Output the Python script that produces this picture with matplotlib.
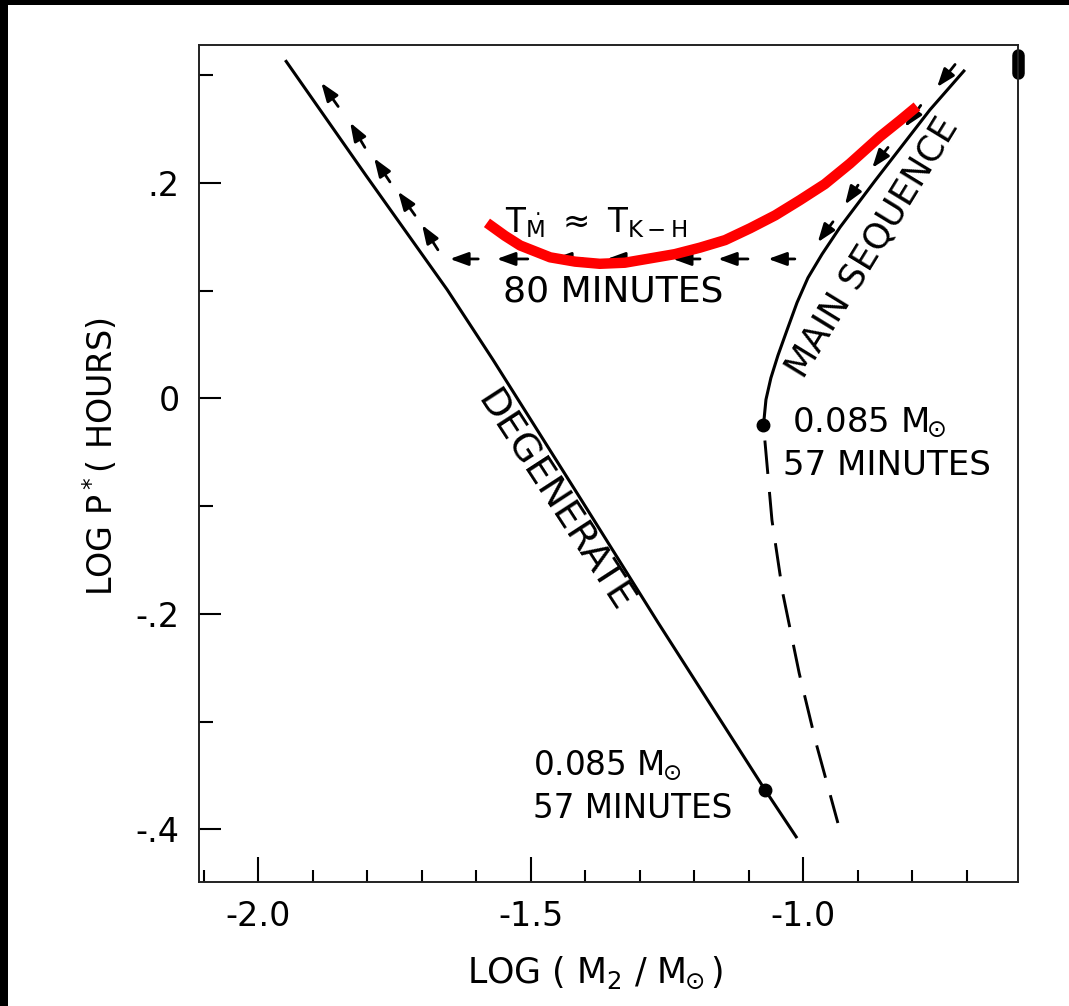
import numpy as np
import matplotlib
matplotlib.use('Agg')
import matplotlib.pyplot as plt
from matplotlib.patches import Rectangle

plt.rcParams['font.family'] = ['DejaVu Sans']
plt.rcParams['mathtext.fontset'] = 'dejavusans'

# degenerate secondary track (log M2, log P)
deg_x = [-1.950, -1.802, -1.653, -1.569, -1.407, -1.266, -1.070, -1.011]
deg_y = [0.314, 0.207, 0.101, 0.036, -0.094, -0.208, -0.363, -0.408]

# main sequence track, solid part and dashed continuation
ms_x = [-0.703, -0.767, -0.868, -0.932, -0.965, -0.991, -1.011, -1.029,
        -1.046, -1.059, -1.068, -1.073]
ms_y = [0.305, 0.268, 0.202, 0.159, 0.134, 0.112, 0.089, 0.064,
        0.040, 0.019, -0.001, -0.027]
ms_dash_x = [-1.070, -1.057, -1.037, -1.007, -0.976, -0.936]
ms_dash_y = [-0.039, -0.113, -0.181, -0.255, -0.320, -0.394]

# 0.085 Msun points
dot_x = [-1.074, -1.070]
dot_y = [-0.025, -0.363]

# red curve (T_Mdot = T_KH)
red_x = [-1.580, -1.547, -1.519, -1.464, -1.418, -1.373, -1.327, -1.281, -1.235,
         -1.189, -1.143, -1.097, -1.051, -1.006, -0.960, -0.914, -0.859, -0.822, -0.791]
red_y = [0.163, 0.151, 0.142, 0.131, 0.127, 0.125, 0.126, 0.130, 0.134,
         0.140, 0.147, 0.158, 0.170, 0.184, 0.199, 0.218, 0.243, 0.258, 0.271]

# evolution arrows: tail -> tip
arr_tail_x = [-0.721, -0.784, -0.844, -0.899, -0.945,
              -1.015, -1.101, -1.189, -1.303, -1.404, -1.505, -1.596,
              -1.670, -1.712, -1.758, -1.804, -1.853]
arr_tail_y = [0.310, 0.272, 0.233, 0.198, 0.164,
              0.1295, 0.1295, 0.1295, 0.1295, 0.1295, 0.1295, 0.1295,
              0.138, 0.170, 0.201, 0.233, 0.271]
arr_tip_x = [-0.754, -0.813, -0.873, -0.923, -0.973,
             -1.064, -1.156, -1.239, -1.360, -1.459, -1.562, -1.648,
             -1.699, -1.743, -1.787, -1.831, -1.884]
arr_tip_y = [0.289, 0.252, 0.214, 0.180, 0.145,
             0.1295, 0.1295, 0.1295, 0.1295, 0.1295, 0.1295, 0.1295,
             0.161, 0.192, 0.223, 0.256, 0.293]

x_ticks = [-2.0, -1.5, -1.0]
x_labels = ['-2.0', '-1.5', '-1.0']
x_minor = [-2.1, -1.9, -1.8, -1.7, -1.6, -1.4, -1.3, -1.2, -1.1, -0.9, -0.8, -0.7]
y_ticks = [0.2, 0.0, -0.2, -0.4]
y_labels = ['.2', '0', '-.2', '-.4']
y_minor = [0.3, 0.1, -0.1, -0.3]

fig = plt.figure(figsize=(10.69, 10.06), dpi=100, facecolor='black')
fig.add_artist(Rectangle((8 / 1069, 0), 1, 1 - 5 / 1006, transform=fig.transFigure,
                         facecolor='white', edgecolor='none', zorder=-1))
ax = fig.add_axes([0.1862, 0.1233, 0.7661, 0.832])
ax.set_facecolor('white')

ax.plot(deg_x, deg_y, color='black', lw=2.2, solid_capstyle='butt', solid_joinstyle='round')
ax.plot(ms_x, ms_y, color='black', lw=2.2, solid_capstyle='butt', solid_joinstyle='round')
ax.plot(ms_dash_x, ms_dash_y, color='black', lw=2.1, dashes=(11.5, 6.2))
ax.plot(dot_x, dot_y, 'o', color='black', ms=9)

for tx, ty, hx, hy in zip(arr_tail_x, arr_tail_y, arr_tip_x, arr_tip_y):
    ax.annotate('', xy=(hx, hy), xytext=(tx, ty),
                arrowprops=dict(arrowstyle='-|>,head_length=0.55,head_width=0.2',
                                color='black', lw=2.0, shrinkA=0, shrinkB=0,
                                mutation_scale=20))

ax.plot(red_x, red_y, color='#ff0000', lw=7.5, solid_capstyle='butt',
        solid_joinstyle='round', zorder=5)

# scan blob on the right frame
ax.plot([-0.6055, -0.6055], [0.319, 0.302], color='black', lw=9,
        solid_capstyle='round', clip_on=False)

# labels in the plot
msun = r'$\mathregular{M_{\!\!\odot}}$'
ax.text(-1.380, 0.1545, r'$\mathrm{T}_{\dot{\mathrm{M}}}\ \approx\ \mathrm{T}_{\mathrm{K-H}}$',
        fontsize=23.5, ha='center', va='baseline')
ax.text(-1.550, 0.0896, '80 MINUTES', fontsize=26, ha='left', va='baseline')
ax.text(-1.020, -0.031, '0.085 ' + msun, fontsize=24.5, ha='left', va='baseline')
ax.text(-1.037, -0.071, '57 MINUTES', fontsize=24.5, ha='left', va='baseline')
ax.text(-1.495, -0.350, '0.085 ' + msun, fontsize=23.5, ha='left', va='baseline')
ax.text(-1.495, -0.389, '57 MINUTES', fontsize=23.5, ha='left', va='baseline')
ax.text(-1.457, -0.096, 'DEGENERATE', fontsize=27.5, rotation=-57,
        ha='center', va='center', rotation_mode='anchor')
ax.text(-0.872, 0.140, 'MAIN SEQUENCE', fontsize=25.5, rotation=58.5,
        ha='center', va='center', rotation_mode='anchor')

ax.set_xlim(-2.1083, -0.6055)
ax.set_ylim(-0.4487, 0.3281)
ax.set_xticks(x_ticks)
ax.set_xticklabels(x_labels)
ax.set_xticks(x_minor, minor=True)
ax.set_yticks(y_ticks)
ax.set_yticklabels(y_labels)
ax.set_yticks(y_minor, minor=True)

ax.tick_params(axis='x', which='major', direction='in', length=18, width=1.5, pad=13, labelsize=24)
ax.tick_params(axis='x', which='minor', direction='in', length=9, width=1.5)
ax.tick_params(axis='y', which='major', direction='in', length=16, width=1.5, pad=14, labelsize=24)
ax.tick_params(axis='y', which='minor', direction='in', length=10, width=1.5)

for s in ax.spines.values():
    s.set_linewidth(1.4)
    s.set_color('#222222')

fig.text(595 / 1069, 1 - 983 / 1006, r'LOG ( $\mathregular{M_2}$ / ' + msun + ')',
         fontsize=25, ha='center', va='baseline')
fig.text(101 / 1069, 1 - 457 / 1006, r'LOG P$^*$( HOURS)', fontsize=24,
         ha='center', va='center', rotation=90)

fig.savefig('out.png', dpi=100, facecolor=fig.get_facecolor())
